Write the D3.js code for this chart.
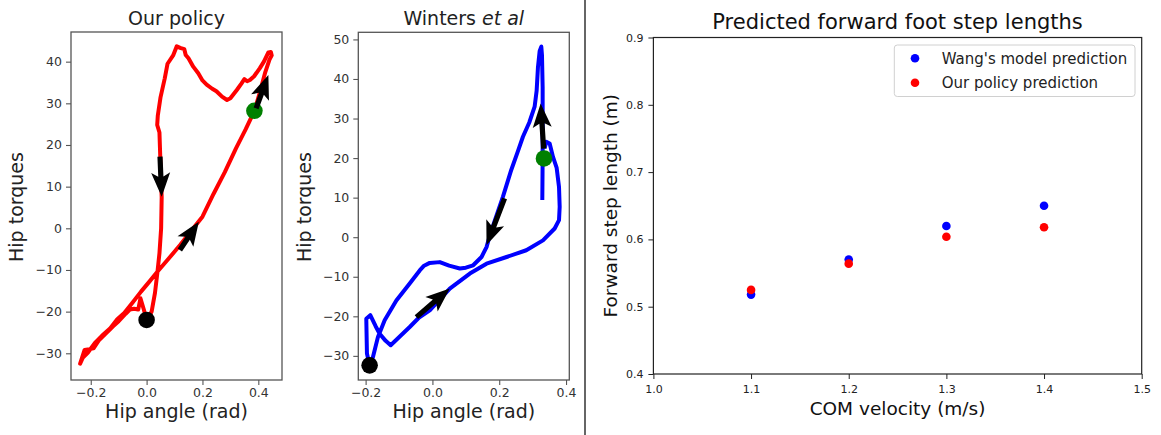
<!DOCTYPE html>
<html>
<head>
<meta charset="utf-8">
<script src="https://cdn.jsdelivr.net/npm/d3@7"></script>
<style>
  body { margin: 0; background: #fff; }
  svg { display: block; font-family: 'DejaVu Sans', sans-serif; }
</style>
</head>
<body>
<div id="chart"></div>
<script>
// hip angle (rad) and hip torque, traced along each loop
const policyAngle = [0.000, -0.010, -0.022, -0.030, -0.045, -0.060, -0.075, -0.100, -0.120, -0.150, -0.170, -0.190, -0.205, -0.222, -0.238,
  -0.228, -0.210, -0.185, -0.160, -0.130, -0.105, -0.080, -0.050, -0.020, 0.010, 0.040, 0.080, 0.120, 0.160, 0.200, 0.240, 0.280, 0.320,
  0.355, 0.386, 0.405, 0.425, 0.440, 0.448, 0.445, 0.436, 0.420, 0.405, 0.385, 0.370, 0.360, 0.350, 0.340, 0.323, 0.300, 0.288, 0.270,
  0.250, 0.235, 0.215, 0.200, 0.185, 0.167, 0.150, 0.140, 0.135, 0.120, 0.108, 0.095, 0.075, 0.065, 0.050, 0.040, 0.038, 0.046, 0.050,
  0.054, 0.052, 0.046, 0.038, 0.030, 0.018, 0.000];
const policyTorque = [-22.0, -19.5, -16.8, -19.5, -19.3, -19.5, -20.5, -22.3, -23.5, -25.5, -26.8, -28.8, -29.0, -29.2, -32.5,
  -31.0, -29.8, -27.5, -25.8, -24.0, -21.8, -20.3, -17.8, -15.2, -12.8, -10.3, -7.2, -4.0, -0.6, 2.8, 8.3, 13.5, 19.2,
  23.8, 28.2, 32.5, 37.5, 40.5, 41.5, 42.3, 42.2, 40.0, 38.4, 36.5, 35.6, 35.3, 35.8, 34.8, 33.2, 31.2, 30.8, 31.6,
  32.9, 33.5, 34.5, 35.5, 37.2, 38.8, 40.8, 41.6, 43.0, 43.3, 43.7, 41.5, 39.5, 36.0, 31.5, 27.0, 24.8, 23.0, 15.0,
  7.5, 0.0, -6.0, -11.0, -15.5, -20.0, -22.0];

const wintersAngle = [0.329, 0.330, 0.330, 0.330, 0.328, 0.326, 0.321, 0.316, 0.312, 0.306, 0.290, 0.271, 0.255, 0.236, 0.211,
  0.190, 0.172, 0.162, 0.147, 0.122, 0.100, 0.082, 0.050, 0.022, -0.008, -0.025, -0.038, -0.068, -0.108, -0.143, -0.163, -0.178,
  -0.188, -0.196, -0.198, -0.186, -0.170, -0.158, -0.140, -0.125, -0.100, -0.068, -0.040, -0.008, 0.052, 0.112, 0.162, 0.222,
  0.281, 0.331, 0.366, 0.379, 0.381, 0.379, 0.372, 0.361, 0.351, 0.341, 0.336];
const wintersTorque = [9.4, 20.0, 27.0, 38.0, 46.0, 48.2, 47.0, 43.0, 37.0, 33.0, 29.0, 25.4, 21.5, 17.0, 10.2,
  5.0, 0.5, -2.5, -5.0, -7.1, -7.7, -7.9, -7.2, -6.3, -6.5, -7.2, -8.4, -11.7, -16.0, -21.0, -25.2, -30.3,
  -32.4, -29.4, -20.6, -19.7, -22.5, -24.4, -26.2, -27.3, -25.3, -22.7, -20.3, -18.5, -13.0, -9.2, -6.7, -5.0,
  -3.3, -0.8, 2.2, 4.3, 7.7, 12.7, 17.5, 20.3, 23.7, 24.1, 22.5];

// direction arrows: [angle from, torque from, angle to, torque to]
const policyArrows = [[0.048, 17.2, 0.054, 7.6], [0.119, -5.2, 0.187, 1.6], [0.392, 28.8, 0.436, 36.8]];
const wintersArrows = [[0.333, 22.4, 0.324, 33.8], [0.216, 9.8, 0.162, -2.0], [-0.048, -20.2, 0.052, -13.0]];

// start (black) and mid-stance (green) markers: [angle, torque]
const policyMarks = [[0.000, -22.0], [0.386, 28.2]];
const wintersMarks = [[-0.188, -32.4], [0.334, 19.9]];

const angleTicks = [-0.2, 0.0, 0.2, 0.4];
const policyTorqueTicks = [-30, -20, -10, 0, 10, 20, 30, 40];
const wintersTorqueTicks = [-30, -20, -10, 0, 10, 20, 30, 40, 50];

// step length scatter
const velocities = [1.1, 1.2, 1.3, 1.4];
const wangStep = [0.518, 0.570, 0.620, 0.650];
const policyStep = [0.525, 0.564, 0.604, 0.618];
const velocityTicks = [1.0, 1.1, 1.2, 1.3, 1.4, 1.5];
const stepTicks = [0.4, 0.5, 0.6, 0.7, 0.8, 0.9];
const seriesNames = ["Wang's model prediction", 'Our policy prediction'];

const width = 1161;
const height = 435;

const svg = d3.select('#chart')
  .append('svg')
  .attr('width', width)
  .attr('height', height);

function arrowPath(x0, y0, x1, y1) {
  const len = Math.hypot(x1 - x0, y1 - y0);
  const ux = (x1 - x0) / len, uy = (y1 - y0) / len;
  const nx = -uy, ny = ux;
  const sw = 2.6, hw = 9.5, hl = 24, ha = 20;
  const back = (a, b) => [x1 - ux * a + nx * b, y1 - uy * a + ny * b];
  const pts = [[x0 + nx * sw, y0 + ny * sw], back(ha, sw), back(hl, hw), [x1, y1],
    back(hl, -hw), back(ha, -sw), [x0 - nx * sw, y0 - ny * sw]];
  return 'M' + pts.map(p => p.join(',')).join('L') + 'Z';
}

function phasePanel(o) {
  const g = svg.append('g');
  const x = d3.scaleLinear().domain(o.xDomain).range([o.left, o.right]);
  const y = d3.scaleLinear().domain(o.yDomain).range([o.bottom, o.top]);

  const xAxis = g.append('g')
    .attr('transform', `translate(0,${o.bottom})`)
    .call(d3.axisBottom(x).tickValues(angleTicks).tickFormat(d3.format('.1f')).tickSize(5).tickPadding(3));
  const yAxis = g.append('g')
    .attr('transform', `translate(${o.left},0)`)
    .call(d3.axisLeft(y).tickValues(o.yTicks).tickFormat(d3.format('d')).tickSize(5).tickPadding(4));
  [xAxis, yAxis].forEach(a => {
    a.select('.domain').remove();
    a.selectAll('line').attr('stroke', '#555').attr('stroke-width', 1.1);
    a.selectAll('text').attr('font-size', '12.5px').attr('fill', '#333').attr('font-family', 'DejaVu Sans');
  });

  g.append('rect')
    .attr('x', o.left).attr('y', o.top)
    .attr('width', o.right - o.left).attr('height', o.bottom - o.top)
    .attr('fill', 'none').attr('stroke', '#555').attr('stroke-width', 1.3);

  const line = d3.line().x(d => x(d[0])).y(d => y(d[1]));
  g.append('path')
    .datum(o.angle.map((a, i) => [a, o.torque[i]]))
    .attr('d', line)
    .attr('fill', 'none')
    .attr('stroke', o.color)
    .attr('stroke-width', 4)
    .attr('stroke-linejoin', 'round')
    .attr('stroke-linecap', 'butt');

  g.selectAll('circle.mark')
    .data(o.marks)
    .enter()
    .append('circle')
    .attr('cx', d => x(d[0]))
    .attr('cy', d => y(d[1]))
    .attr('r', 8.3)
    .attr('fill', (d, i) => i === 0 ? '#000' : '#008000');

  g.selectAll('path.arrow')
    .data(o.arrows)
    .enter()
    .append('path')
    .attr('class', 'arrow')
    .attr('d', d => arrowPath(x(d[0]), y(d[1]), x(d[2]), y(d[3])))
    .attr('fill', '#000');

  const cx = (o.left + o.right) / 2;
  const title = g.append('text')
    .attr('x', cx).attr('y', 25)
    .attr('text-anchor', 'middle')
    .attr('font-size', '19px')
    .attr('fill', '#222');
  o.title.forEach(t => title.append('tspan').attr('font-style', t.italic ? 'italic' : 'normal').text(t.text));

  g.append('text')
    .attr('x', cx).attr('y', 418)
    .attr('text-anchor', 'middle')
    .attr('font-size', '19px')
    .attr('fill', '#222')
    .text('Hip angle (rad)');

  g.append('text')
    .attr('transform', `translate(${o.labelX},207) rotate(-90)`)
    .attr('text-anchor', 'middle')
    .attr('font-size', '19px')
    .attr('fill', '#222')
    .text('Hip torques');
}

phasePanel({
  left: 71, right: 282, top: 32, bottom: 380, labelX: 23,
  xDomain: [-0.2707, 0.4848], yDomain: [-36.41, 47.12],
  yTicks: policyTorqueTicks,
  angle: policyAngle, torque: policyTorque, color: '#ff0000',
  marks: policyMarks, arrows: policyArrows,
  title: [{ text: 'Our policy' }]
});

phasePanel({
  left: 358.3, right: 569.3, top: 32.3, bottom: 380, labelX: 311,
  xDomain: [-0.2219, 0.4098], yDomain: [-36.1, 51.8],
  yTicks: wintersTorqueTicks,
  angle: wintersAngle, torque: wintersTorque, color: '#0000ff',
  marks: wintersMarks, arrows: wintersArrows,
  title: [{ text: 'Winters ' }, { text: 'et al', italic: true }]
});

// divider between the figures
svg.append('line')
  .attr('x1', 585).attr('x2', 585)
  .attr('y1', 0).attr('y2', height)
  .attr('stroke', '#333')
  .attr('stroke-width', 1.5);

// step length scatter
const sx = d3.scaleLinear().domain([1.0, 1.5]).range([653.4, 1141.7]);
const sy = d3.scaleLinear().domain([0.4, 0.9]).range([374, 37.5]);
const sg = svg.append('g');

const sxAxis = sg.append('g')
  .attr('transform', `translate(0,${sy(0.4)})`)
  .call(d3.axisBottom(sx).tickValues(velocityTicks).tickFormat(d3.format('.1f')).tickSize(5).tickPadding(6));
const syAxis = sg.append('g')
  .attr('transform', `translate(${sx(1.0)},0)`)
  .call(d3.axisLeft(sy).tickValues(stepTicks).tickFormat(d3.format('.1f')).tickSize(5).tickPadding(5));
[sxAxis, syAxis].forEach(a => {
  a.select('.domain').remove();
  a.selectAll('line').attr('stroke', '#222').attr('stroke-width', 1);
  a.selectAll('text').attr('font-size', '11px').attr('fill', '#222').attr('font-family', 'DejaVu Sans');
});

sg.append('rect')
  .attr('x', sx(1.0)).attr('y', sy(0.9))
  .attr('width', sx(1.5) - sx(1.0)).attr('height', sy(0.4) - sy(0.9))
  .attr('fill', 'none').attr('stroke', '#222').attr('stroke-width', 1.2);

[[wangStep, '#0000ff'], [policyStep, '#ff0000']].forEach(([vals, color]) => {
  sg.append('g')
    .selectAll('circle')
    .data(velocities.map((v, i) => [v, vals[i]]))
    .enter()
    .append('circle')
    .attr('cx', d => sx(d[0]))
    .attr('cy', d => sy(d[1]))
    .attr('r', 4.3)
    .attr('fill', color);
});

sg.append('text')
  .attr('x', (sx(1.0) + sx(1.5)) / 2).attr('y', 29)
  .attr('text-anchor', 'middle')
  .attr('font-size', '21px')
  .attr('fill', '#111')
  .text('Predicted forward foot step lengths');

sg.append('text')
  .attr('x', (sx(1.0) + sx(1.5)) / 2).attr('y', 415)
  .attr('text-anchor', 'middle')
  .attr('font-size', '18.5px')
  .attr('fill', '#111')
  .text('COM velocity (m/s)');

sg.append('text')
  .attr('transform', `translate(617,${(sy(0.4) + sy(0.9)) / 2}) rotate(-90)`)
  .attr('text-anchor', 'middle')
  .attr('font-size', '18.5px')
  .attr('fill', '#111')
  .text('Forward step length (m)');

// legend
const legend = sg.append('g');
legend.append('rect')
  .attr('x', 894.3).attr('y', 45)
  .attr('width', 1135 - 894.3).attr('height', 51.5)
  .attr('rx', 3)
  .attr('fill', '#fff').attr('fill-opacity', 0.8)
  .attr('stroke', '#d0d0d0');
const items = legend.selectAll('g.item')
  .data(seriesNames)
  .enter()
  .append('g')
  .attr('transform', (d, i) => `translate(0,${58.3 + i * 24.4})`);
items.append('circle')
  .attr('cx', 915).attr('cy', 0).attr('r', 4.3)
  .attr('fill', (d, i) => i === 0 ? '#0000ff' : '#ff0000');
items.append('text')
  .attr('x', 941.7).attr('y', 5.5)
  .attr('font-size', '15px')
  .attr('fill', '#222')
  .text(d => d);
</script>
</body>
</html>
